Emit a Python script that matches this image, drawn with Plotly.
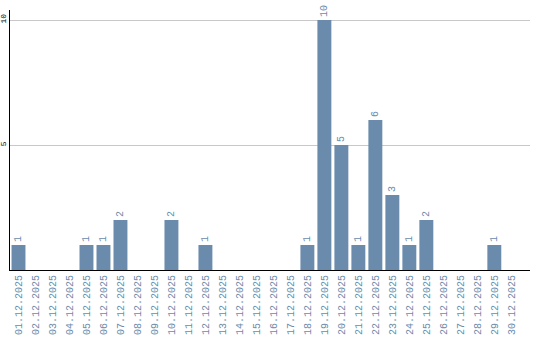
import plotly.graph_objects as go

dates = [f"{d:02d}.12.2025" for d in range(1, 31)]
values = [1, 0, 0, 0, 1, 1, 2, 0, 0, 2, 0, 1, 0, 0, 0, 0, 0, 1, 10, 5, 1, 6, 3, 1, 2, 0, 0, 0, 1, 0]
labels = [str(v) if v else "" for v in values]

bar_color = "#6a8bac"
label_color = "#6a8bac"

fig = go.Figure(go.Bar(
    x=dates, y=values, text=labels, textposition="outside", textangle=-90,
    cliponaxis=False,
    textfont=dict(family="Liberation Mono", size=10, color=label_color),
    marker=dict(color=bar_color, line=dict(width=0)),
))
fig.update_layout(
    width=540, height=340, margin=dict(l=10, r=10, t=10, b=70),
    plot_bgcolor="white", paper_bgcolor="white", bargap=0.18,
    showlegend=False, uniformtext=dict(minsize=1, mode=False),
)
fig.update_xaxes(
    type="category", range=[-0.5, 30.1], tickangle=-90, showgrid=False,
    showline=True, linecolor="black", linewidth=1, ticks="", automargin=False,
    tickfont=dict(family="Liberation Mono", size=10, color=label_color),
)
fig.update_yaxes(
    range=[0, 10.4], tickvals=[5, 10], tickangle=-90, showgrid=True,
    gridcolor="#c8c8c8", gridwidth=1, zeroline=False, automargin=False,
    showline=True, linecolor="black", linewidth=1, ticks="",
    tickfont=dict(family="Liberation Mono", size=8, color="black"),
)
fig.write_html("out.html")
